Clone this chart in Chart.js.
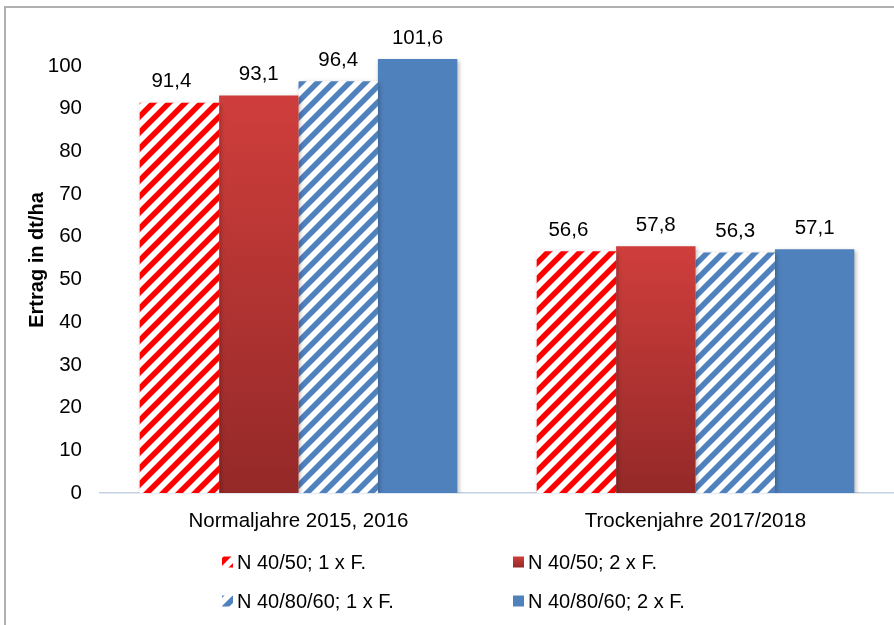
<!DOCTYPE html>
<html>
<head>
<meta charset="utf-8">
<script src="https://cdn.jsdelivr.net/npm/chart.js@4.4.0/dist/chart.umd.min.js"></script>
<style>
  html, body { margin: 0; padding: 0; background: #fff; }
  #wrap { position: relative; width: 894px; height: 625px; }
</style>
</head>
<body>
<div id="wrap"><canvas id="c" width="894" height="625"></canvas></div>
<script>
// Yield (dt/ha) by nitrogen strategy, normal years vs. dry years
const categories = ['Normaljahre 2015, 2016', 'Trockenjahre 2017/2018'];
const seriesNames = ['N 40/50; 1 x F.', 'N 40/50; 2 x F.', 'N 40/80/60; 1 x F.', 'N 40/80/60; 2 x F.'];
const n4050_1x = [91.4, 56.6];
const n4050_2x = [93.1, 57.8];
const n408060_1x = [96.4, 56.3];
const n408060_2x = [101.6, 57.1];
const yTicks = [0, 10, 20, 30, 40, 50, 60, 70, 80, 90, 100];
const yTitle = 'Ertrag in dt/ha';

const FONT = '"Liberation Sans", Arial, sans-serif';
const TEXT_SIZE = 20.5;
const fmt = v => v.toFixed(1).replace('.', ',');

// diagonal "/" stripes on white
function stripes(color) {
  const s = 16;
  const c = document.createElement('canvas');
  c.width = s; c.height = s;
  const g = c.getContext('2d');
  g.fillStyle = '#fff';
  g.fillRect(0, 0, s, s);
  g.strokeStyle = color;
  g.lineWidth = 5.5;
  g.beginPath();
  for (const k of [-1, 0, 1]) {
    g.moveTo(k * s - 2, s + 2);
    g.lineTo(k * s + s + 2, -2);
  }
  g.stroke();
  return g.createPattern(c, 'repeat');
}

const redStripes = stripes('#ff0000');
const blueStripes = stripes('#4f81bd');

// red bars shade from a lighter top to a darker base
function redGradient(ctx) {
  const chart = ctx.chart;
  if (!chart.chartArea || ctx.type !== 'data') return '#b83636';
  const y = chart.scales.y;
  const top = y.getPixelForValue(ctx.raw);
  const base = y.getPixelForValue(0);
  const g = chart.ctx.createLinearGradient(0, top, 0, base);
  g.addColorStop(0, '#cf3e3c');
  g.addColorStop(1, '#942928');
  return g;
}

const styles = [
  { fill: redStripes, labelShift: -8 },
  { fill: redGradient, labelShift: 0 },
  { fill: blueStripes, labelShift: 0 },
  { fill: '#4f81bd', labelShift: 0 }
];

const seriesValues = [n4050_1x, n4050_2x, n408060_1x, n408060_2x];

const datasets = seriesValues.map((vals, i) => ({
  label: seriesNames[i],
  data: vals,
  backgroundColor: styles[i].fill,
  borderWidth: 0,
  categoryPercentage: 0.8,
  barPercentage: 1.0
}));

const shadowPlugin = {
  id: 'barShadow',
  beforeDatasetsDraw(chart) {
    const c = chart.ctx;
    c.save();
    c.shadowColor = 'rgba(0,0,0,0.28)';
    c.shadowBlur = 4;
    c.shadowOffsetX = 1.5;
    c.shadowOffsetY = 1.5;
  },
  afterDatasetsDraw(chart) {
    chart.ctx.restore();
  }
};

const decorPlugin = {
  id: 'decor',
  afterDraw(chart) {
    const c = chart.ctx;
    c.save();
    // frame lines
    c.fillStyle = '#b0b0b0';
    c.fillRect(4, 6, 2, 625);
    c.fillRect(4, 6, 890, 2);

    // rotated axis title
    c.save();
    c.translate(37, 260);
    c.rotate(-Math.PI / 2);
    c.fillStyle = '#000';
    c.font = 'bold 20px ' + FONT;
    c.textAlign = 'center';
    c.textBaseline = 'middle';
    c.fillText(yTitle, 0, 0);
    c.restore();

    // value labels
    c.fillStyle = '#000';
    c.font = TEXT_SIZE + 'px ' + FONT;
    c.textAlign = 'center';
    c.textBaseline = 'alphabetic';
    chart.data.datasets.forEach((ds, i) => {
      const meta = chart.getDatasetMeta(i);
      meta.data.forEach((bar, j) => {
        c.fillText(fmt(ds.data[j]), bar.x + styles[i].labelShift, bar.y - 15.5);
      });
    });

    // legend: two columns, two rows
    const cols = [222, 513];
    const rows = [562, 601];
    c.font = '20px ' + FONT;
    c.textAlign = 'left';
    c.textBaseline = 'middle';
    chart.data.datasets.forEach((ds, i) => {
      const x = cols[i % 2];
      const y = rows[Math.floor(i / 2)];
      let fill = styles[i].fill;
      if (typeof fill === 'function') {
        const g = c.createLinearGradient(0, y - 5.5, 0, y + 5.5);
        g.addColorStop(0, '#cf3e3c');
        g.addColorStop(1, '#942928');
        fill = g;
      }
      c.fillStyle = fill;
      c.fillRect(x, y - 5.5, 11, 11);
      c.fillStyle = '#000';
      c.fillText(ds.label, x + 15, y + 1);
    });
    c.restore();
  }
};

new Chart(document.getElementById('c'), {
  type: 'bar',
  data: { labels: categories, datasets },
  options: {
    responsive: false,
    animation: false,
    layout: { padding: { top: 44.6, right: 0, bottom: 0, left: 0 } },
    plugins: {
      legend: { display: false },
      tooltip: { enabled: false }
    },
    scales: {
      x: {
        grid: { display: false, drawTicks: false },
        border: { display: true, color: '#c5d2e4', width: 1.5 },
        ticks: { color: '#000', font: { family: FONT, size: TEXT_SIZE }, padding: 16 },
        afterFit(scale) { scale.height = 132; }
      },
      y: {
        min: 0,
        max: 105,
        grid: { display: false, drawTicks: false },
        border: { display: false },
        ticks: { color: '#000', font: { family: FONT, size: TEXT_SIZE }, padding: 18 },
        afterBuildTicks(scale) { scale.ticks = yTicks.map(v => ({ value: v })); },
        afterFit(scale) { scale.width = 100; }
      }
    }
  },
  plugins: [shadowPlugin, decorPlugin]
});
</script>
</body>
</html>
